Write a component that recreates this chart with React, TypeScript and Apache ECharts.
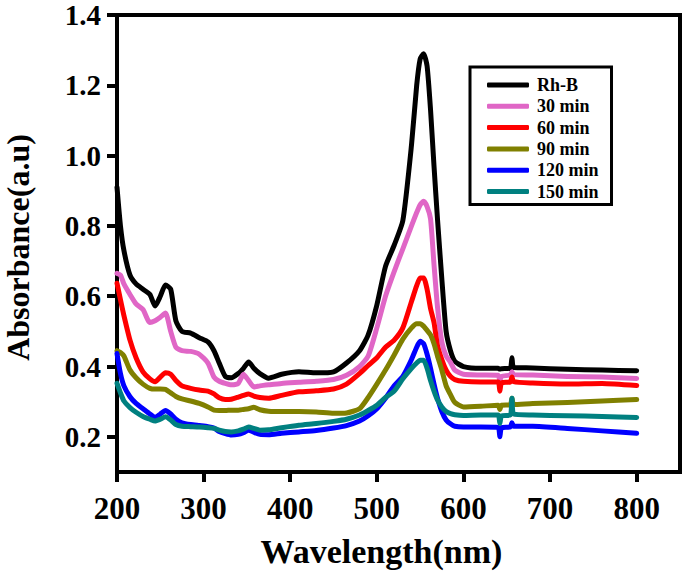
import React, { useEffect, useRef } from "react";
import * as echarts from "echarts";

const wavelengths = [200, 204, 208, 215, 222, 230, 238, 244, 250, 256, 262, 268, 275, 285, 295, 305, 312, 318, 325, 332, 340, 346, 352, 358, 365, 375, 390, 410, 430, 450, 465, 480, 490, 500, 510, 520, 530, 540, 546, 550, 554, 558, 562, 566, 570, 575, 580, 585, 590, 600, 620, 640, 642, 644, 654, 656, 658, 680, 720, 760, 800];

const rhB = [0.91, 0.80, 0.73, 0.66, 0.635, 0.62, 0.605, 0.572, 0.60, 0.632, 0.62, 0.53, 0.50, 0.495, 0.482, 0.47, 0.445, 0.41, 0.372, 0.368, 0.38, 0.395, 0.413, 0.395, 0.38, 0.367, 0.378, 0.385, 0.382, 0.385, 0.41, 0.445, 0.49, 0.575, 0.685, 0.745, 0.815, 1.03, 1.20, 1.275, 1.29, 1.255, 1.13, 0.97, 0.82, 0.65, 0.50, 0.445, 0.415, 0.40, 0.395, 0.395, 0.393, 0.394, 0.395, 0.425, 0.397, 0.396, 0.392, 0.39, 0.388];

const min30 = [0.665, 0.66, 0.635, 0.605, 0.578, 0.562, 0.525, 0.53, 0.54, 0.552, 0.50, 0.455, 0.445, 0.443, 0.435, 0.41, 0.37, 0.358, 0.352, 0.348, 0.352, 0.378, 0.36, 0.342, 0.345, 0.348, 0.352, 0.355, 0.358, 0.363, 0.375, 0.40, 0.43, 0.51, 0.60, 0.67, 0.735, 0.80, 0.838, 0.86, 0.87, 0.855, 0.82, 0.69, 0.57, 0.47, 0.43, 0.412, 0.39, 0.378, 0.376, 0.375, 0.36, 0.372, 0.376, 0.385, 0.377, 0.376, 0.372, 0.37, 0.366];

const min60 = [0.637, 0.59, 0.545, 0.475, 0.425, 0.385, 0.365, 0.357, 0.37, 0.382, 0.378, 0.36, 0.345, 0.338, 0.333, 0.33, 0.322, 0.311, 0.306, 0.307, 0.313, 0.318, 0.322, 0.316, 0.312, 0.31, 0.318, 0.328, 0.331, 0.336, 0.35, 0.38, 0.403, 0.425, 0.455, 0.475, 0.51, 0.585, 0.63, 0.652, 0.652, 0.62, 0.565, 0.525, 0.46, 0.42, 0.39, 0.372, 0.363, 0.358, 0.356, 0.356, 0.33, 0.354, 0.356, 0.37, 0.357, 0.353, 0.35, 0.352, 0.346];

const min90 = [0.445, 0.44, 0.43, 0.39, 0.368, 0.35, 0.338, 0.336, 0.336, 0.335, 0.325, 0.315, 0.308, 0.302, 0.295, 0.285, 0.276, 0.275, 0.275, 0.276, 0.276, 0.278, 0.28, 0.284, 0.277, 0.273, 0.272, 0.272, 0.271, 0.267, 0.268, 0.28, 0.312, 0.35, 0.39, 0.433, 0.478, 0.51, 0.522, 0.522, 0.515, 0.503, 0.49, 0.465, 0.43, 0.39, 0.345, 0.32, 0.298, 0.285, 0.287, 0.29, 0.278, 0.29, 0.291, 0.31, 0.292, 0.295, 0.298, 0.302, 0.306];

const min120 = [0.437, 0.38, 0.345, 0.314, 0.295, 0.28, 0.265, 0.255, 0.265, 0.275, 0.265, 0.25, 0.24, 0.235, 0.232, 0.229, 0.225, 0.215, 0.209, 0.205, 0.207, 0.212, 0.219, 0.213, 0.207, 0.206, 0.21, 0.214, 0.218, 0.225, 0.232, 0.245, 0.26, 0.28, 0.31, 0.345, 0.372, 0.42, 0.455, 0.472, 0.465, 0.435, 0.395, 0.35, 0.31, 0.272, 0.248, 0.237, 0.23, 0.228, 0.228, 0.227, 0.20, 0.226, 0.228, 0.24, 0.23, 0.23, 0.224, 0.217, 0.21];

const min150 = [0.352, 0.325, 0.302, 0.283, 0.27, 0.258, 0.25, 0.245, 0.25, 0.257, 0.248, 0.235, 0.23, 0.229, 0.228, 0.226, 0.224, 0.219, 0.215, 0.214, 0.217, 0.222, 0.228, 0.224, 0.219, 0.22, 0.226, 0.233, 0.238, 0.244, 0.25, 0.262, 0.275, 0.29, 0.312, 0.33, 0.365, 0.395, 0.41, 0.418, 0.418, 0.395, 0.36, 0.33, 0.305, 0.285, 0.272, 0.266, 0.263, 0.261, 0.262, 0.262, 0.238, 0.26, 0.262, 0.31, 0.265, 0.262, 0.26, 0.258, 0.255];

const seriesNames = ["Rh-B", "30 min", "60 min", "90 min", "120 min", "150 min"];
const seriesColors = ["#000000", "#E066C6", "#FF0000", "#808000", "#0000FF", "#008080"];
const seriesValues = [rhB, min30, min60, min90, min120, min150];

const xTicks = [200, 300, 400, 500, 600, 700, 800];
const yTicks = [0.2, 0.4, 0.6, 0.8, 1.0, 1.2, 1.4];

const FONT = "'Times New Roman', 'Liberation Serif', serif";

export default function App() {
  const ref = useRef<HTMLDivElement>(null);
  useEffect(() => {
    document.body.style.margin = "0";
    if (!ref.current) return;
    const chart = echarts.init(ref.current, null, { renderer: "svg" });
    const series = seriesNames.map((name, i) => ({
      name,
      type: "line",
      data: wavelengths.map((w, k) => [w, seriesValues[i][k]]),
      showSymbol: false,
      symbol: "none",
      smooth: 0.2,
      lineStyle: { color: seriesColors[i], width: 5, cap: "round", join: "round" },
      itemStyle: { color: seriesColors[i] },
      z: 2 + i,
    }));
    chart.setOption({
      animation: false,
      backgroundColor: "#ffffff",
      grid: {
        left: 117,
        right: 5,
        top: 15,
        bottom: 106,
        show: true,
        borderColor: "#000",
        borderWidth: 4,
        containLabel: false,
        outerBoundsMode: "none",
      },
      legend: {
        orient: "vertical",
        left: 470,
        top: 67,
        data: seriesNames,
        icon: "roundRect",
        itemWidth: 42,
        itemHeight: 5,
        itemGap: 3.3,
        borderColor: "#000",
        borderWidth: 3,
        padding: [9, 13, 4, 17],
        textStyle: {
          fontFamily: FONT,
          fontWeight: "bold",
          fontSize: 18,
          lineHeight: 18,
          color: "#000",
          padding: [0, 0, 0, 3],
        },
      },
      xAxis: {
        type: "value",
        min: 200,
        max: 850,
        name: "Wavelength(nm)",
        nameLocation: "middle",
        nameGap: 62,
        nameTextStyle: {
          fontFamily: FONT,
          fontWeight: "bold",
          fontSize: 34,
          color: "#000",
          padding: [0, 34, 0, 0],
        },
        axisLine: { show: true, lineStyle: { color: "#000", width: 4 } },
        axisTick: { show: true, inside: false, length: 10, lineStyle: { color: "#000", width: 4 }, customValues: xTicks },
        axisLabel: {
          fontFamily: FONT,
          fontWeight: "bold",
          fontSize: 31,
          lineHeight: 26,
          color: "#000",
          margin: 23,
          customValues: xTicks,
        },
        splitLine: { show: false },
      },
      yAxis: {
        type: "value",
        min: 0.1,
        max: 1.4,
        name: "Absorbance(a.u)",
        nameLocation: "middle",
        nameGap: 84,
        nameRotate: 90,
        nameTextStyle: {
          fontFamily: FONT,
          fontWeight: "bold",
          fontSize: 32,
          lineHeight: 30,
          color: "#000",
          padding: [0, 8, 0, 0],
        },
        axisLine: { show: true, lineStyle: { color: "#000", width: 4 } },
        axisTick: { show: true, inside: false, length: 10, lineStyle: { color: "#000", width: 4 }, customValues: yTicks },
        axisLabel: {
          fontFamily: FONT,
          fontWeight: "bold",
          fontSize: 29,
          lineHeight: 26,
          color: "#000",
          margin: 16,
          customValues: yTicks,
          formatter: (v: number) => v.toFixed(1),
        },
        splitLine: { show: false },
      },
      series,
    });
    return () => chart.dispose();
  }, []);
  return <div ref={ref} style={{ width: 685, height: 578 }} />;
}
